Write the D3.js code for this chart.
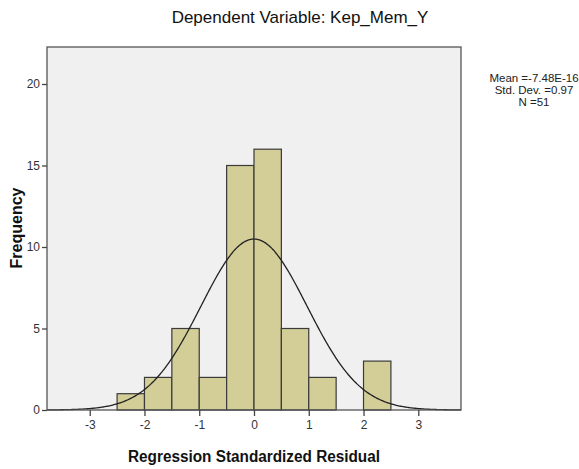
<!DOCTYPE html>
<html><head><meta charset="utf-8">
<script src="https://cdn.jsdelivr.net/npm/d3@7"></script>
<style>body{margin:0;background:#fff}svg text{font-family:"Liberation Sans Narrow","Arial Narrow","Liberation Sans",Arial,sans-serif}</style>
</head><body><svg id="c" width="579" height="469"></svg>
<script>
const binStarts = [-2.5,-2,-1.5,-1,-0.5,0,0.5,1,1.5,2];
const binWidth = 0.5;
const counts = [1,2,5,2,15,16,5,2,0,3];
const xTicks = [-3,-2,-1,0,1,2,3];
const yTicks = [0,5,10,15,20];
const statMean = -7.48e-16, statSD = 0.97, statN = 51;
const legendLines = ["Mean =-7.48E-16","Std. Dev. =0.97","N =51"];

const svg = d3.select("#c");
const L=47, R=461, T=47, B=410;
const x = d3.scaleLinear().domain([-3.78,3.78]).range([L,R]);
const y = d3.scaleLinear().domain([0,22.27]).range([B,T]);

svg.append("rect").attr("x",L).attr("y",T).attr("width",R-L).attr("height",B-T).attr("fill","#f0f0f0");

svg.selectAll("rect.bar").data(binStarts.map((s,i)=>({s,c:counts[i]})).filter(d=>d.c>0))
 .enter().append("rect").attr("class","bar")
 .attr("x",d=>x(d.s)).attr("width",d=>x(d.s+binWidth)-x(d.s))
 .attr("y",d=>y(d.c)).attr("height",d=>y(0)-y(d.c))
 .attr("fill","#d3ce98").attr("stroke","#3a3a3a").attr("stroke-width",1.2);

// normal curve from stats
const pts = d3.range(-3.78,3.7801,0.02).map(v=>[v, statN*binWidth*Math.exp(-0.5*Math.pow((v-statMean)/statSD,2))/(statSD*Math.sqrt(2*Math.PI))]);
svg.append("path").datum(pts).attr("d",d3.line().x(d=>x(d[0])).y(d=>y(d[1])).curve(d3.curveBasis))
 .attr("fill","none").attr("stroke","#222").attr("stroke-width",1.3);

svg.append("rect").attr("x",L).attr("y",T).attr("width",R-L).attr("height",B-T).attr("fill","none").attr("stroke","#555").attr("stroke-width",1.3);

const fmt = d => String(d);
const ya = svg.append("g").attr("transform",`translate(${L},0)`).call(d3.axisLeft(y).tickValues(yTicks).tickFormat(fmt).tickSize(5).tickPadding(2));
ya.select(".domain").remove();
ya.selectAll("line").attr("stroke","#444").attr("stroke-width",1.3);
ya.selectAll("text").attr("font-size",12).attr("fill","#333");

const xa = svg.append("g").attr("transform",`translate(0,${B})`).call(d3.axisBottom(x).tickValues(xTicks).tickFormat(fmt).tickSize(6).tickPadding(4));
xa.select(".domain").remove();
xa.selectAll("line").attr("stroke","#444").attr("stroke-width",1.3);
xa.selectAll("text").attr("font-size",12).attr("fill","#333");

svg.append("text").attr("x",300).attr("y",23).attr("text-anchor","middle").attr("font-size",17).attr("fill","#111").text("Dependent Variable: Kep_Mem_Y");
svg.append("text").attr("x",(L+R)/2).attr("y",462).attr("text-anchor","middle").attr("font-size",16).attr("font-weight","bold").attr("fill","#111")
 .attr("textLength",252).attr("lengthAdjust","spacingAndGlyphs").text("Regression Standardized Residual");
svg.append("text").attr("transform","translate(22,228) rotate(-90)").attr("text-anchor","middle").attr("font-size",16).attr("font-weight","bold").attr("fill","#111").text("Frequency");

svg.selectAll("text.leg").data(legendLines).enter().append("text").attr("class","leg")
 .attr("x",534).attr("y",(d,i)=>82+i*12).attr("text-anchor","middle").attr("font-size",11.5).attr("fill","#222").text(d=>d);
</script></body></html>
